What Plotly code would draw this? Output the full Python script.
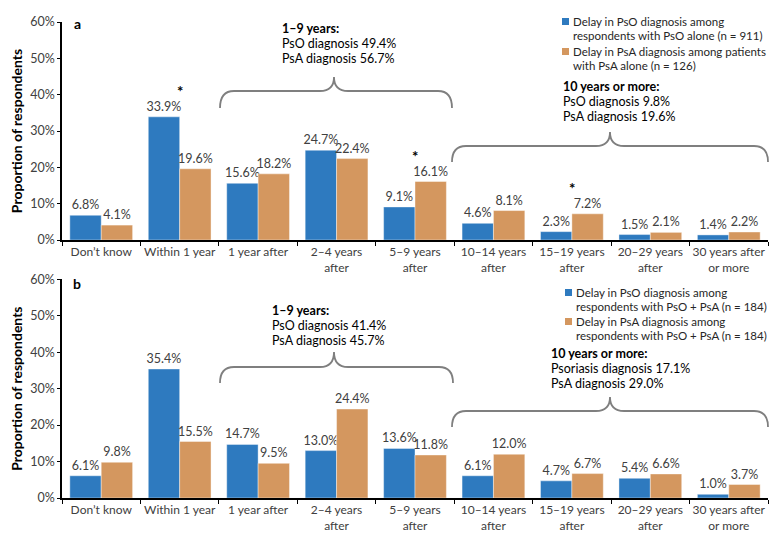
import plotly.graph_objects as go

categories = ["Don’t know", "Within 1 year", "1 year after", "2–4 years<br>after",
              "5–9 years<br>after", "10–14 years<br>after", "15–19 years<br>after",
              "20–29 years<br>after", "30 years after<br>or more"]

a_pso = [6.8, 33.9, 15.6, 24.7, 9.1, 4.6, 2.3, 1.5, 1.4]
a_psa = [4.1, 19.6, 18.2, 22.4, 16.1, 8.1, 7.2, 2.1, 2.2]
b_pso = [6.1, 35.4, 14.7, 13.0, 13.6, 6.1, 4.7, 5.4, 1.0]
b_psa = [9.8, 15.5, 9.5, 24.4, 11.8, 12.0, 6.7, 6.6, 3.7]

a_names = [["Delay in PsO diagnosis among", "respondents with PsO alone (n = 911)"],
           ["Delay in PsA diagnosis among patients", "with PsA alone (n = 126)"]]
b_names = [["Delay in PsO diagnosis among", "respondents with PsO + PsA (n = 184)"],
           ["Delay in PsA diagnosis among", "respondents with PsO + PsA (n = 184)"]]

a_sig = ["Within 1 year", "5–9 years<br>after", "15–19 years<br>after"]

a_box1 = ["1–9 years:", "PsO diagnosis 49.4%", "PsA diagnosis 56.7%"]
a_box2 = ["10 years or more:", "PsO diagnosis 9.8%", "PsA diagnosis 19.6%"]
b_box1 = ["1–9 years:", "PsO diagnosis 41.4%", "PsA diagnosis 45.7%"]
b_box2 = ["10 years or more:", "Psoriasis diagnosis 17.1%", "PsA diagnosis 29.0%"]

BLUE = "#2E7ABF"
ORANGE = "#D4975F"
TXT = "#404040"
FONT = "Lato"

W, H = 776, 537
ML, MR, MT, MB = 62, 8, 22, 39
PW = W - ML - MR
PH = H - MT - MB


def px(x):
    return (x - ML) / PW


def py(y):
    return (H - MB - y) / PH


fig = go.Figure()

for vals, name, color, xa, ya in [
    (a_pso, "<br>".join(a_names[0]), BLUE, "x", "y"),
    (a_psa, "<br>".join(a_names[1]), ORANGE, "x", "y"),
    (b_pso, "<br>".join(b_names[0]), BLUE, "x2", "y2"),
    (b_psa, "<br>".join(b_names[1]), ORANGE, "x2", "y2"),
]:
    fig.add_trace(go.Bar(
        x=categories, y=vals, name=name, xaxis=xa, yaxis=ya, showlegend=False,
        marker=dict(color=color, line=dict(color="rgba(255,255,255,0.5)", width=0.8)),
        text=[f"{v:.1f}%" for v in vals], textposition="outside", constraintext="none",
        textfont=dict(family=FONT, size=12.5, color=TXT), cliponaxis=False,
    ))

dom_a = [py(240), 1.0]
dom_b = [0.0, py(279.3)]

xcommon = dict(type="category", showline=True, linecolor="black", linewidth=1.5,
               ticks="outside", tickson="boundaries", ticklen=4, tickcolor="black",
               tickangle=0, automargin=False,
               tickfont=dict(family=FONT, size=12, color=TXT), showgrid=False)
ycommon = dict(range=[0, 60], dtick=10, ticksuffix="%", showline=True, linecolor="black",
               linewidth=1.5, ticks="outside", ticklen=3, tickcolor="black",
               showgrid=False, zeroline=False, automargin=False,
               tickfont=dict(family=FONT, size=12.5, color=TXT),
               title=dict(text="<b>Proportion of respondents</b>",
                          font=dict(family=FONT, size=14, color="black"), standoff=4))

fig.update_layout(
    width=W, height=H,
    margin=dict(l=ML, r=MR, t=MT, b=MB),
    plot_bgcolor="white", paper_bgcolor="white",
    barmode="group", bargap=0.2, bargroupgap=0,
    font=dict(family=FONT, size=12.5, color=TXT),
    xaxis=dict(**xcommon, domain=[0, 1], anchor="y"),
    yaxis=dict(**ycommon, domain=dom_a, anchor="x"),
    xaxis2=dict(**xcommon, domain=[0, 1], anchor="y2"),
    yaxis2=dict(**ycommon, domain=dom_b, anchor="x2"),
    showlegend=False,
)

annotations = []
shapes = []
# panel letters
annotations.append(dict(x=px(77), y=py(24), xref="paper", yref="paper", text="<b>a</b>",
                        showarrow=False, xanchor="center", yanchor="middle",
                        font=dict(family=FONT, size=14, color="black")))
annotations.append(dict(x=px(77), y=py(283), xref="paper", yref="paper", text="<b>b</b>",
                        showarrow=False, xanchor="center", yanchor="middle",
                        font=dict(family=FONT, size=14, color="black")))

# significance stars
for c in a_sig:
    i = categories.index(c)
    top = max(a_pso[i], a_psa[i])
    annotations.append(dict(x=c, y=top, xref="x", yref="y", text="<b>*</b>", showarrow=False,
                            yshift=26, xanchor="center", yanchor="middle",
                            font=dict(family=FONT, size=15, color="black")))


def box(lines, x, y):
    for k, t in enumerate(lines):
        txt = f"<b>{t}</b>" if k == 0 else t
        annotations.append(dict(x=px(x), y=py(y + 15 * k), xref="paper", yref="paper",
                                text=txt, showarrow=False, xanchor="left", yanchor="middle",
                                font=dict(family=FONT, size=12.5, color="black")))


box(a_box1, 280, 29)
box(a_box2, 561, 87)
box(b_box1, 270, 310)
box(b_box2, 549, 353)


def legend_entry(lines, color, x, y, dy):
    shapes.append(dict(type="rect", xref="paper", yref="paper",
                       x0=px(x), x1=px(x + 7), y0=py(y + 3.5), y1=py(y - 3.5),
                       fillcolor=color, line=dict(width=0)))
    for k, t in enumerate(lines):
        annotations.append(dict(x=px(x + 10), y=py(y + dy * k), xref="paper", yref="paper",
                                text=t, showarrow=False, xanchor="left", yanchor="middle",
                                borderpad=0,
                                font=dict(family=FONT, size=11.5, color="#262626")))


legend_entry(a_names[0], BLUE, 562, 21.5, 14)
legend_entry(a_names[1], ORANGE, 562, 51.5, 14)
legend_entry(b_names[0], BLUE, 565, 292.5, 14)
legend_entry(b_names[1], ORANGE, 565, 321.5, 14)


def bracket(x0, x1, xm, yb, yt, yp):
    r = 14 / PW
    X0, X1, XM = px(x0), px(x1), px(xm)
    YB, YT, YP = py(yb), py(yt), py(yp)
    path = (f"M {X0},{YB} Q {X0},{YT} {X0 + r},{YT} L {XM - r},{YT} "
            f"Q {XM},{YT} {XM},{YP} Q {XM},{YT} {XM + r},{YT} "
            f"L {X1 - r},{YT} Q {X1},{YT} {X1},{YB}")
    return dict(type="path", path=path, xref="paper", yref="paper",
                line=dict(color="#7F7F7F", width=1.8))


shapes += [
    bracket(220, 452, 334, 108, 91, 77),
    bracket(452, 768, 610, 162, 146, 132),
    bracket(220, 453, 334, 383, 367, 352),
    bracket(452, 768, 610, 427, 411, 397),
]

fig.update_layout(annotations=annotations, shapes=shapes)

fig.write_html("out.html", config={"displayModeBar": False},
               post_script="document.body.style.margin='0px';document.body.style.overflow='hidden';")
